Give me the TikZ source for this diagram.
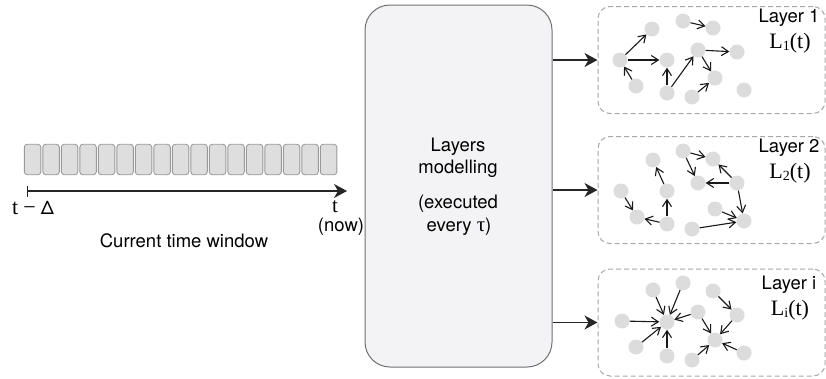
\documentclass[tikz,border=0pt]{standalone}
\usepackage{fontspec}
\setmainfont{TeX Gyre Heros}
\newfontfamily\serifa{Liberation Serif}
\usetikzlibrary{arrows.meta}
\definecolor{dotgray}{HTML}{DCDCDC}
\definecolor{boxfill}{HTML}{F3F3F5}
\definecolor{boxline}{HTML}{707070}
\definecolor{dashline}{HTML}{A8A8A8}
\definecolor{cellfill}{HTML}{DEDEDE}
\definecolor{cellline}{HTML}{9A9A9A}
\begin{document}
\begin{tikzpicture}[x=1pt,y=-1pt,
  every node/.style={font=\fontsize{18.5}{22}\selectfont},
  dot/.style={circle,fill=dotgray,minimum size=15pt,inner sep=0pt},
  link/.style={-{Straight Barb[length=7pt,width=9pt,line width=1.1pt]},line width=1.1pt,black!90},
  bigarrow/.style={-{Stealth[length=13pt,width=14pt,inset=4pt]},line width=1.3pt,black!85},
  layerbox/.style={draw=dashline,dash pattern=on 5pt off 3pt,line width=1pt,rounded corners=12pt,minimum width=227pt,minimum height=107pt,inner sep=0pt},
  cellbox/.style={draw=cellline,fill=cellfill,line width=0.9pt,rounded corners=3pt,minimum width=16.5pt,minimum height=30.5pt,inner sep=0pt},
  serlab/.style={font=\serifa\fontsize{22}{24}\selectfont}]
\useasboundingbox (0,0) rectangle (826,378);

% central box
\node[draw=boxline,fill=boxfill,line width=1pt,rounded corners=25pt,minimum width=187pt,minimum height=362pt,inner sep=0pt] (model) at (458.5,186) {};
\node (mt1) at (458,147) {Layers};
\node (mt2) at (458,169) {modelling};
\node (mt3) at (458,204) {(executed};
\node (mt4) at (459,227) {every {\serifa\fontsize{21}{22}\selectfont τ})};

% layer boxes
\node[layerbox] (layer1) at (711.5,60) {};
\node[layerbox] (layer2) at (711.5,190) {};
\node[layerbox] (layer3) at (711.5,322.5) {};

\draw[bigarrow] (model.east |- layer1.west) -- (layer1.west);
\draw[bigarrow] (model.east |- layer2.west) -- (layer2.west);
\draw[bigarrow] (model.east |- layer3.west) -- (layer3.west);

% layer labels
\node (lab1) at (789,18) {Layer 1};
\node[serlab] (sym1) at (790,43) {L\raisebox{-2pt}{\fontsize{14}{14}\selectfont 1}(t)};
\node (lab2) at (789,148) {Layer 2};
\node[serlab] (sym2) at (790,173) {L\raisebox{-2pt}{\fontsize{14}{14}\selectfont 2}(t)};
\node (lab3) at (789,285) {Layer i};
\node[serlab] (sym3) at (790,310) {L\raisebox{-2pt}{\fontsize{14}{14}\selectfont i}(t)};

% layer 1 graph
\node[dot] (l1a) at (620,60) {};
\node[dot] (l1b) at (652,29) {};
\node[dot] (l1c) at (683,21) {};
\node[dot] (l1d) at (713,28) {};
\node[dot] (l1e) at (667,60) {};
\node[dot] (l1f) at (698,50) {};
\node[dot] (l1g) at (737,52) {};
\node[dot] (l1h) at (715,78) {};
\node[dot] (l1i) at (636,86) {};
\node[dot] (l1j) at (667,93) {};
\node[dot] (l1k) at (692,97) {};
\node[dot] (l1l) at (744,90) {};
\draw[link] (l1a) -- (l1b);
\draw[link] (l1a) -- (l1e);
\draw[link] (l1i) -- (l1a);
\draw[link] (l1j) -- (l1e);
\draw[link] (l1j) -- (l1f);
\draw[link] (l1f) -- (l1g);
\draw[link] (l1f) -- (l1h);
\draw[link] (l1k) -- (l1h);
\draw[link] (l1c) -- (l1d);

% layer 2 graph
\node[dot] (l2a) at (653,160) {};
\node[dot] (l2b) at (683,151) {};
\node[dot] (l2c) at (713,159) {};
\node[dot] (l2d) at (698,183) {};
\node[dot] (l2e) at (737,183) {};
\node[dot] (l2f) at (621,191) {};
\node[dot] (l2g) at (667,191) {};
\node[dot] (l2h) at (637,217) {};
\node[dot] (l2i) at (667,224) {};
\node[dot] (l2j) at (715,209) {};
\node[dot] (l2k) at (744,221) {};
\node[dot] (l2l) at (692,229) {};
\draw[link] (l2b) -- (l2c);
\draw[link] (l2b) -- (l2d);
\draw[link] (l2e) -- (l2c);
\draw[link] (l2e) -- (l2d);
\draw[link] (l2e) -- (l2k);
\draw[link] (l2j) -- (l2k);
\draw[link] (l2l) -- (l2k);
\draw[link] (l2f) -- (l2h);
\draw[link] (l2i) -- (l2h);
\draw[link] (l2i) -- (l2g);
\draw[link] (l2g) -- (l2a);

% layer i graph
\node[dot] (l3p) at (653,290) {};
\node[dot] (l3q) at (683,283) {};
\node[dot] (l3r) at (713,291) {};
\node[dot] (l3s) at (622,321) {};
\node[dot] (l3t) at (667,322) {};
\node[dot] (l3u) at (698,312) {};
\node[dot] (l3v) at (737,315) {};
\node[dot] (l3w) at (636,347) {};
\node[dot] (l3x) at (667,356) {};
\node[dot] (l3y) at (715,340) {};
\node[dot] (l3z) at (692,360) {};
\node[dot] (l3zz) at (744,353) {};
\draw[link] (l3p) -- (l3t);
\draw[link] (l3q) -- (l3t);
\draw[link] (l3s) -- (l3t);
\draw[link] (l3u) -- (l3t);
\draw[link] (l3w) -- (l3t);
\draw[link] (l3x) -- (l3t);
\draw[link] (l3r) -- (l3v);
\draw[link] (l3u) -- (l3y);
\draw[link] (l3v) -- (l3y);
\draw[link] (l3z) -- (l3y);
\draw[link] (l3zz) -- (l3y);

% time window cells
\foreach \i in {0,...,16} {
  \node[cellbox] (cell\i) at ({32.55+\i*18.5},159.5) {};
}
\coordinate (tstart) at (27.5,191);
\coordinate (tend) at (347,191);
\draw[bigarrow] (tstart) -- (tend);
\draw[line width=1.3pt,black!85] (27.5,186) -- (27.5,197);
\node[inner sep=1pt] (tdelta) at (33,208) {{\serifa\fontsize{22}{24}\selectfont t} {\serifa\fontsize{22}{24}\selectfont −} Δ};
\node[font=\serifa\fontsize{21}{22}\selectfont,inner sep=1pt] (tnow) at (335,207) {t};
\node[inner sep=1pt] (now) at (341,227) {(now)};
\node (ctw) at (184,241) {Current time window};
\end{tikzpicture}
\end{document}
